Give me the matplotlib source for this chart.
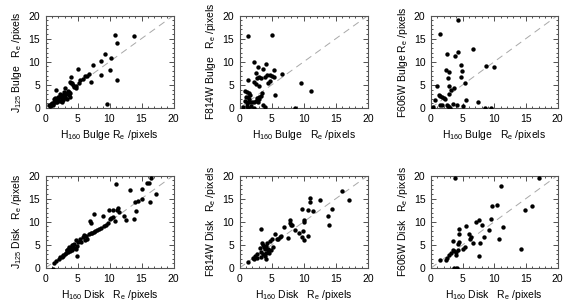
import matplotlib
matplotlib.use("Agg")
import matplotlib.pyplot as plt
from matplotlib.ticker import MultipleLocator

plt.rcParams['font.family'] = ['Liberation Sans', 'DejaVu Sans']
plt.rcParams['mathtext.default'] = 'regular'

# ---- data ----
# Panel 1: J125 bulge vs H160 bulge
p1_x = [10.8, 11.1, 13.9, 9.3, 8.6, 10.2, 7.4, 10.0, 8.6, 11.2, 9.6, 5.0, 6.8, 6.5, 6.1,
        5.9, 5.4, 5.2, 7.1, 4.0, 3.9, 4.3, 4.5, 4.8, 4.7, 4.2, 4.0, 3.1, 1.6,
        2.3, 2.8, 3.3, 3.6, 3.7, 3.05, 2.5, 2.0, 1.6, 1.3, 1.1, 0.8, 0.7, 0.6, 1.85,
        1.5, 2.1, 3.8, 3.4, 2.5, 1.2, 2.8, 3.2, 3.5, 2.9, 2.6, 1.9, 1.4, 1.0, 0.9,
        2.2, 3.0, 3.9, 1.7, 1.5, 2.4, 1.8]
p1_y = [15.8, 14.0, 15.6, 11.6, 10.2, 10.9, 9.3, 8.3, 7.2, 6.0, 0.9, 8.5, 7.3, 6.9, 7.0,
        6.3, 6.0, 5.4, 5.6, 6.8, 5.7, 5.0, 4.6, 4.8, 4.3, 5.3, 5.4, 4.4, 3.9,
        3.1, 2.8, 3.3, 2.9, 3.5, 2.4, 2.0, 1.9, 1.7, 1.3, 0.95, 0.6, 0.4, 0.7, 1.3,
        2.2, 2.4, 2.4, 2.0, 1.3, 0.6, 1.7, 3.0, 3.7, 3.4, 2.6, 2.3, 1.9, 1.1, 0.8,
        1.6, 2.1, 3.2, 1.2, 1.5, 2.8, 2.0]

# Panel 2: F814W bulge vs H160 bulge
p2_x = [1.3, 5.0, 2.2, 4.2, 2.9, 3.7, 5.3, 2.6, 4.3, 4.7, 5.1, 6.6, 3.0, 2.8, 3.4, 4.0,
        2.3, 1.4, 5.3, 4.8, 4.4, 2.6, 3.0, 5.5, 9.5, 11.2,
        0.8, 1.2, 1.5, 1.6, 1.3, 1.0, 0.9, 1.3, 1.7, 2.0, 2.6, 2.9, 3.1, 3.3, 3.0, 2.8,
        3.5, 1.1, 1.4, 2.2, 3.6, 4.0, 0.6, 1.8, 1.5, 1.2, 2.3, 8.6]
p2_y = [15.6, 15.7, 10.0, 9.5, 8.8, 8.5, 8.2, 7.6, 7.1, 7.2, 7.0, 7.3, 6.6, 6.4, 6.5, 6.6,
        5.6, 6.0, 6.6, 5.8, 5.5, 5.2, 4.7, 2.9, 5.4, 3.7,
        3.7, 3.5, 3.2, 2.8, 2.4, 2.3, 1.5, 1.4, 1.3, 1.2, 1.6, 1.4, 2.0, 2.7, 2.4, 2.2,
        3.2, 0.5, 0.0, 0.1, 0.6, 0.3, 0.2, 0.5, 2.0, 1.0, 1.2, 0.0]

# Panel 3: F606W bulge vs H160 bulge
p3_x = [4.2, 1.4, 6.6, 2.6, 4.3, 3.8, 4.8, 8.7, 9.9, 2.3, 4.9, 2.9, 4.8, 2.7, 5.4,
        2.8, 3.1, 3.6, 2.9, 0.9, 1.3, 1.5, 1.7, 2.0, 2.2, 0.6, 5.6, 7.4, 3.5, 4.1,
        1.5, 1.8, 2.5, 2.7, 2.9, 3.0, 5.0, 8.5, 9.5, 0.3]
p3_y = [19.1, 16.1, 12.8, 11.7, 12.1, 11.3, 9.4, 9.0, 8.9, 8.2, 8.1, 7.7, 6.8, 6.4, 5.4,
        4.7, 3.9, 4.3, 3.0, 4.7, 2.9, 2.6, 2.3, 2.1, 2.0, 1.8, 1.8, 1.2, 0.8, 0.7,
        0.7, 0.6, 0.6, 0.4, 0.2, 0.0, 0.5, 0.0, 0.0, 0.2]

# Panel 4: J125 disk vs H160 disk
p4_x = [11.0, 15.8, 16.1, 16.5, 13.2, 15.1, 17.2, 15.0, 14.5, 14.0, 16.3, 14.1, 13.8,
        7.6, 6.9, 7.1, 9.9, 10.5, 11.1, 11.3, 11.5, 12.2, 12.5, 9.0, 10.0, 10.2, 9.7,
        9.5, 10.8, 10.5, 8.0, 8.3, 7.8, 7.5, 7.1, 6.8, 6.3, 6.0, 5.8, 5.4, 5.0, 4.8,
        4.5, 4.9, 4.3, 4.0, 3.8, 3.7, 3.5, 3.3, 3.2, 3.0, 3.6, 4.1, 4.4, 4.7, 4.9,
        2.8, 2.6, 2.3, 2.1, 2.7, 3.4, 3.9, 1.4, 1.2, 1.6, 6.5, 6.2, 5.6, 7.3, 8.6,
        9.1, 4.1, 3.7]
p4_y = [18.2, 18.3, 18.3, 19.4, 16.8, 17.1, 16.0, 15.0, 14.5, 14.2, 14.2, 12.4, 10.7,
        11.6, 10.1, 9.8, 12.6, 12.5, 12.5, 12.9, 12.2, 11.3, 10.3, 11.2, 10.6, 10.9, 9.8,
        9.4, 10.2, 11.0, 8.2, 8.4, 8.0, 7.8, 7.6, 7.4, 7.0, 7.2, 6.6, 6.2, 5.6, 6.0,
        5.2, 4.8, 4.9, 4.5, 4.1, 3.8, 3.5, 3.8, 3.3, 3.0, 4.3, 3.9, 4.4, 4.2, 2.7,
        2.7, 2.4, 2.3, 1.9, 2.9, 4.0, 3.6, 1.0, -0.2, 1.5, 6.3, 6.1, 5.6, 7.5, 8.6,
        9.0, 4.9, 4.6]

# Panel 5: F814W disk vs H160 disk
p5_x = [16.0, 17.0, 11.0, 11.0, 12.5, 9.7, 10.6, 11.5, 10.0, 10.1, 14.4, 13.8, 14.0,
        7.8, 7.8, 7.0, 8.6, 8.0, 8.1, 9.3, 9.7, 9.9, 10.7, 10.1, 7.6, 6.5, 6.3, 5.8,
        6.0, 5.6, 3.4, 4.8, 5.0, 4.3, 3.5, 3.6, 3.2, 3.8, 4.0, 4.5, 4.9, 4.4, 4.1,
        3.7, 3.3, 3.9, 3.4, 4.2, 2.7, 2.4, 2.1, 2.3, 2.8, 1.3, 4.6, 5.2, 4.1]
p5_y = [16.6, 14.6, 15.1, 14.3, 14.7, 12.7, 12.5, 12.4, 9.9, 10.4, 12.7, 11.3, 9.3,
        10.3, 9.7, 8.8, 8.3, 9.4, 9.3, 7.5, 6.7, 8.0, 7.0, 6.0, 6.4, 7.0, 6.6, 6.2,
        6.3, 7.3, 8.5, 5.9, 6.2, 5.5, 5.5, 4.9, 4.3, 4.5, 4.2, 4.2, 4.0, 3.8, 3.2,
        3.1, 3.5, 2.5, 2.3, 2.0, 3.1, 2.7, 2.2, 2.0, 2.2, 1.3, 3.3, 4.5, 4.7]

# Panel 6: F606W disk vs H160 disk
p6_x = [3.8, 17.1, 11.0, 10.4, 9.7, 15.9, 14.9, 9.55, 7.1, 7.6, 8.0, 11.4, 5.5, 4.5,
        9.2, 6.0, 6.4, 4.5, 8.4, 10.7, 6.2, 3.4, 4.5, 4.2, 6.7, 7.7, 5.4, 5.0, 4.0,
        3.5, 3.6, 3.2, 4.3, 4.0, 2.9, 2.6, 2.3, 1.4, 7.6, 14.3, 3.6, 4.1]
p6_y = [19.4, 19.4, 17.8, 13.7, 13.3, 13.4, 12.6, 10.5, 10.0, 10.4, 9.4, 8.8, 9.0, 8.5,
        8.2, 7.4, 6.7, 7.3, 6.8, 6.3, 6.2, 5.8, 5.7, 5.2, 5.5, 5.5, 4.5, 4.2, 3.5,
        4.0, 3.7, 3.2, 3.9, 2.8, 2.8, 2.2, 1.8, 1.7, 2.6, 4.2, -0.1, 0.0]

xlabels = ["H$_{160}$ Bulge R$_e$ /pixels", "H$_{160}$ Bulge   R$_e$ /pixels",
           "H$_{160}$ Bulge   R$_e$ /pixels",
           "H$_{160}$ Disk   R$_e$ /pixels", "H$_{160}$ Disk   R$_e$ /pixels",
           "H$_{160}$ Disk   R$_e$ /pixels"]
ylabels = ["J$_{125}$ Bulge   R$_e$ /pixels", "F814W Bulge   R$_e$ /pixels",
           "F606W Bulge R$_e$ /pixels",
           "J$_{125}$ Disk   R$_e$ /pixels", "F814W Disk   R$_e$ /pixels",
           "F606W Disk   R$_e$ /pixels"]
ticks = [0, 5, 10, 15, 20]

panels = [(p1_x, p1_y), (p2_x, p2_y), (p3_x, p3_y),
          (p4_x, p4_y), (p5_x, p5_y), (p6_x, p6_y)]

W, H = 578, 308
fig = plt.figure(figsize=(W / 100, H / 100), dpi=100)

cols = [(45.5, 173.5), (239.5, 368.0), (431.0, 557.5)]
rows = [(15.5, 108.0), (175.5, 268.0)]

for i, (xs, ys) in enumerate(panels):
    r, c = divmod(i, 3)
    x0, x1 = cols[c]
    yt, yb = rows[r]
    ax = fig.add_axes([x0 / W, 1 - yb / H, (x1 - x0) / W, (yb - yt) / H])
    ax.set_xlim(0, 20)
    ax.set_ylim(0, 20)
    ax.plot([0, 20], [0, 20], color='#a8a8a8', lw=0.7, dashes=(7, 5))
    ax.scatter(xs, ys, s=10, color='black', linewidths=0, clip_on=True, zorder=3)
    ax.set_xticks(ticks)
    ax.set_yticks(ticks)
    ax.xaxis.set_minor_locator(MultipleLocator(1))
    ax.yaxis.set_minor_locator(MultipleLocator(1))
    ax.tick_params(which='both', direction='in', top=True, right=True,
                   labelsize=7.5, color='#333333', width=0.6)
    ax.tick_params(which='major', length=3.5, pad=4)
    ax.tick_params(which='minor', length=1.6)
    for sp in ax.spines.values():
        sp.set_linewidth(0.8)
        sp.set_color('#555555')
    ax.set_xlabel(xlabels[i], fontsize=7.5, labelpad=3)
    ax.set_ylabel(ylabels[i], fontsize=7.5, labelpad=3)

fig.savefig("out.png", dpi=100)
